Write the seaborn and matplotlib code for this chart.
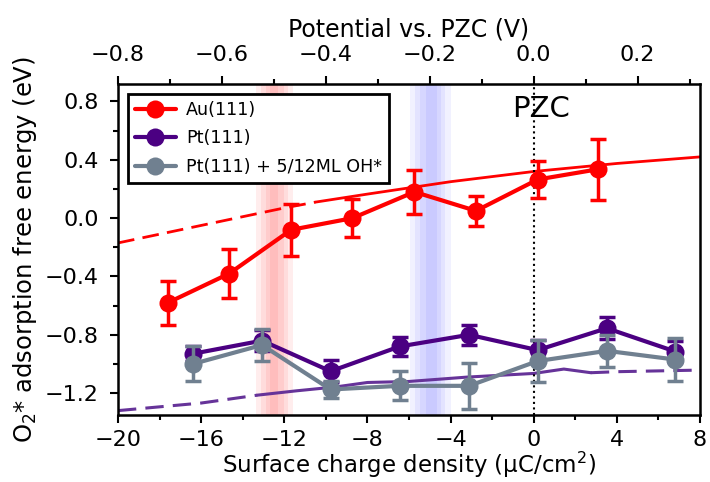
import numpy as np
import pandas as pd
import matplotlib
matplotlib.use("Agg")
import matplotlib.pyplot as plt
from matplotlib.ticker import MultipleLocator
import seaborn as sns

# ---------------- data ----------------
au_x = [-17.6, -14.65, -11.67, -8.72, -5.74, -2.78, 0.19, 3.08]
au_y = [-0.58, -0.38, -0.08, 0.00, 0.18, 0.05, 0.265, 0.335]
au_err = [0.15, 0.17, 0.18, 0.13, 0.15, 0.105, 0.13, 0.21]

pt_x = [-16.4, -13.07, -9.77, -6.45, -3.11, 0.19, 3.52, 6.82]
pt_y = [-0.93, -0.84, -1.05, -0.88, -0.80, -0.905, -0.755, -0.915]
pt_err = [0.05, 0.07, 0.075, 0.065, 0.07, 0.07, 0.075, 0.07]

ptoh_x = [-16.4, -13.07, -9.77, -6.45, -3.11, 0.19, 3.52, 6.82]
ptoh_y = [-1.00, -0.87, -1.175, -1.15, -1.15, -0.98, -0.91, -0.97]
ptoh_err = [0.12, 0.11, 0.06, 0.10, 0.16, 0.145, 0.11, 0.15]

# fitted trend lines
red_fit_x = [-20, -16, -12, -10.5, -8, -4, 0, 4, 8]
red_fit_y = [-0.17, -0.05, 0.07, 0.11, 0.165, 0.25, 0.32, 0.375, 0.42]
red_dash_end = 3  # index where dashed part ends / solid begins

purple_fit_x = [-20, -16, -13.3, -11.4, -9.5, -8.0, -6.0, -3.2, 0.0, 1.45, 2.75, 4.0, 8.0]
purple_fit_y = [-1.32, -1.268, -1.214, -1.184, -1.157, -1.127, -1.12, -1.09, -1.065, -1.035, -1.06, -1.053, -1.042]
purple_solid_start = 2
purple_solid_end = 10

# shaded bands (edges in charge units)
red_band_edges = [(-13.35, -11.57), (-13.1, -11.8), (-12.9, -12.0), (-12.7, -12.3)]
blue_band_edges = [(-5.93, -4.0), (-5.7, -4.25), (-5.45, -4.45), (-5.2, -4.64)]

labels = ["Au(111)", "Pt(111)", "Pt(111) + 5/12ML OH*"]
xticks = [-20, -16, -12, -8, -4, 0, 4, 8]
yticks = [-1.2, -0.8, -0.4, 0.0, 0.4, 0.8]
top_ticks = [-0.8, -0.6, -0.4, -0.2, 0.0, 0.2]
volt_per_charge = 0.04

# ---------------- plot ----------------
sns.set_style("white")
plt.rcParams['font.family'] = ['DejaVu Sans']
plt.rcParams.update({"text.color": "black", "axes.labelcolor": "black",
                     "xtick.color": "black", "ytick.color": "black",
                     "axes.edgecolor": "black"})

fig = plt.figure(figsize=(7.1, 4.82), dpi=100)
ax = fig.add_axes([118 / 710, 1 - 415 / 482, 582 / 710, 331 / 482])

for lo, hi in red_band_edges:
    ax.axvspan(lo, hi, color="red", alpha=0.07, lw=0, zorder=0)
for lo, hi in blue_band_edges:
    ax.axvspan(lo, hi, color="blue", alpha=0.055, lw=0, zorder=0)

dash = (6, 3)
# red fit
rf = pd.DataFrame({"x": red_fit_x, "y": red_fit_y})
sns.lineplot(data=rf.iloc[:red_dash_end + 1], x="x", y="y", ax=ax, color="red",
             lw=2, linestyle=(0, dash), zorder=1)
sns.lineplot(data=rf.iloc[red_dash_end:], x="x", y="y", ax=ax, color="red",
             lw=2, zorder=1)
# purple fit
pf = pd.DataFrame({"x": purple_fit_x, "y": purple_fit_y})
sns.lineplot(data=pf.iloc[:purple_solid_start + 1], x="x", y="y", ax=ax, color="rebeccapurple",
             lw=2.2, linestyle=(0, dash), zorder=1)
sns.lineplot(data=pf.iloc[purple_solid_start:purple_solid_end + 1], x="x", y="y", ax=ax,
             color="rebeccapurple", lw=2.2, zorder=1)
sns.lineplot(data=pf.iloc[purple_solid_end:], x="x", y="y", ax=ax, color="rebeccapurple",
             lw=2.2, linestyle=(0, dash), zorder=1)

series = [(au_x, au_y, au_err, "red"),
          (pt_x, pt_y, pt_err, "indigo"),
          (ptoh_x, ptoh_y, ptoh_err, "slategray")]
for i, (xs, ys, es, c) in enumerate(series):
    d = pd.DataFrame({"x": xs, "y": ys})
    ax.errorbar(xs, ys, yerr=es, fmt="none", ecolor=c, elinewidth=2.5,
                capsize=6, capthick=2.5, zorder=3 + i)
    sns.lineplot(data=d, x="x", y="y", ax=ax, color=c, lw=3, marker="o",
                 markersize=13, markeredgewidth=0, zorder=3 + i, label=labels[i])

# PZC
ax.axvline(0, color="black", ls=":", lw=1.5, zorder=2)
ax.text(0.33, 0.75, "PZC", ha="center", va="center", fontsize=21, zorder=2.5)

ax.set_xlim(-20, 8)
ax.set_ylim(-1.35, 0.92)
ax.set_xticks(xticks)
ax.set_yticks(yticks)
ax.set_yticklabels([f"{v:.1f}".replace("-", "\u2212") for v in yticks])
ax.xaxis.set_minor_locator(MultipleLocator(2))
ax.yaxis.set_minor_locator(MultipleLocator(0.2))
ax.tick_params(which="major", direction="out", length=6, width=1.5, labelsize=16,
               bottom=True, left=True, top=False, right=False, pad=8)
ax.tick_params(axis="x", which="major", pad=5)
ax.tick_params(which="minor", direction="out", length=3.5, width=1.5,
               bottom=True, left=True, top=False, right=False)
for s in ax.spines.values():
    s.set_linewidth(1.8)
    s.set_color("black")

ax.set_xlabel("Surface charge density (\u03bcC/cm$^2$)", fontsize=16.5, labelpad=0)
ax.set_ylabel("O$_2$* adsorption free energy (eV)", fontsize=17.5, labelpad=4)

sec = ax.secondary_xaxis("top", functions=(lambda s: s * volt_per_charge,
                                           lambda v: v / volt_per_charge))
sec.set_xticks(top_ticks)
sec.xaxis.set_minor_locator(MultipleLocator(0.1))
sec.tick_params(which="major", direction="out", length=6, width=1.5, labelsize=16, pad=8)
sec.tick_params(which="minor", direction="out", length=3.5, width=1.5)
sec.set_xlabel("Potential vs. PZC (V)", fontsize=17, labelpad=6)

h, l = ax.get_legend_handles_labels()
leg = ax.legend(h, l, loc="upper left", fontsize=12.6, frameon=True, fancybox=False,
                framealpha=1, edgecolor="black", borderaxespad=0.55, borderpad=0.4,
                handlelength=2.35, handletextpad=0.6, labelspacing=0.6)
leg.get_frame().set_linewidth(2)

fig.savefig("out.png", dpi=100)
